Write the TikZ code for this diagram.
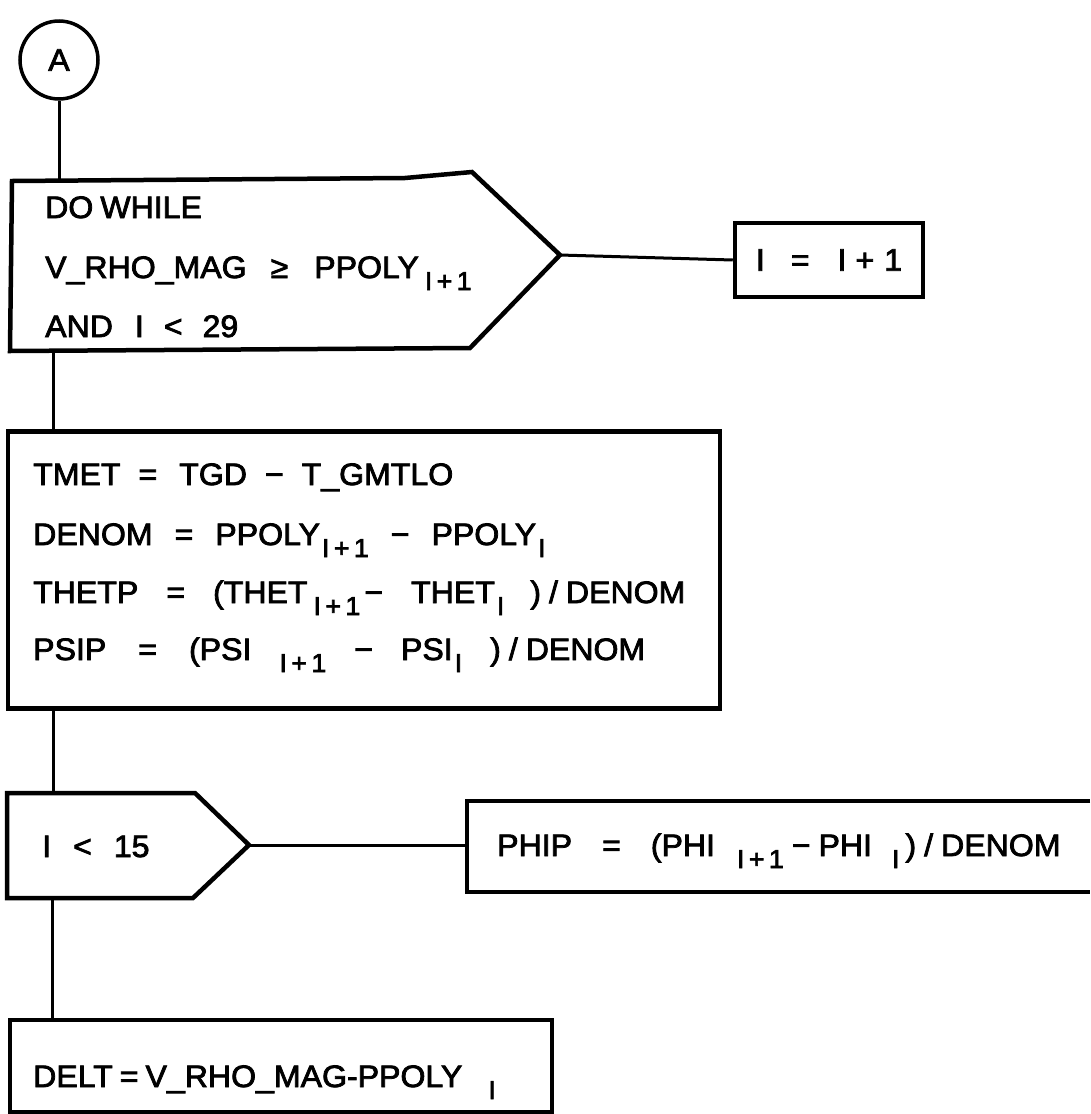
\documentclass[tikz,border=0pt]{standalone}
\usepackage{fontspec}
\setmainfont[FakeStretch=1.035,FakeBold=2.5]{Liberation Sans}
\newcommand\sbx[1]{\raisebox{-12pt}{\fontsize{26}{26}\selectfont #1}}
\newcommand\gp[1]{\hspace{#1pt}}
\begin{document}
\begin{tikzpicture}[x=1pt,y=-1pt,
  boxline/.style={line width=4.5pt, line join=miter},
  wire/.style={line width=3pt},
  rbox/.style={draw, boxline, inner sep=0pt},
  txt/.style={anchor=base west, inner sep=0pt, font=\fontsize{31}{36}\selectfont}]
\useasboundingbox[fill=white] (0,0) rectangle (1090,1114);

% connector A
\node[circle, draw, line width=3.5pt, minimum size=78pt, inner sep=0pt,
      font=\fontsize{31}{36}\selectfont] (A) at (59,60) {A};

% DO WHILE pentagon
\draw[boxline] (12,181) -- (405,178) -- (472,172) -- (560,255) -- (470,348) -- (10,351) -- cycle;
\coordinate (w1top) at (59,180);
\coordinate (w1tip) at (560,255);
\coordinate (w1bot) at (53,351);
\node[txt] (w1a) at (45,218) {DO\gp{7}WHILE};
\node[txt] (w1b) at (45,278) {V\_RHO\_MAG\gp{24}≥\gp{26}PPOLY\gp{6}\sbx{I\,+\,1}};
\node[txt] (w1c) at (45,337) {AND\gp{22}I\gp{20}<\gp{20}29};

% I = I + 1
\node[rbox, minimum width=188pt, minimum height=74pt,
      font=\fontsize{31}{36}\selectfont] (inc) at (829,260) {I\gp{26}=\gp{28}I\gp{9}+\gp{10}1};

% computation box
\node[rbox, minimum width=712pt, minimum height=277pt] (calc) at (364,570) {};
\node[txt] (c1) at (33,485) {TMET\gp{18}=\gp{22}TGD\gp{18}−\gp{18}T\_GMTLO};
\node[txt] (c2) at (33,545) {DENOM\gp{22}=\gp{22}PPOLY\gp{2}\sbx{I\,+\,1}\gp{22}−\gp{22}PPOLY\gp{2}\sbx{I}};
\node[txt] (c3) at (33,603) {THETP\gp{28}=\gp{28}(THET\gp{6}\sbx{I\,+\,1}\gp{4}−\gp{28}THET\gp{2}\sbx{I}\gp{26})\gp{8}/\gp{8}DENOM};
\node[txt] (c4) at (33,660) {PSIP\gp{32}=\gp{32}(PSI\gp{28}\sbx{I\,+\,1}\gp{28}−\gp{28}PSI\gp{2}\sbx{I}\gp{28})\gp{8}/\gp{8}DENOM};

% I < 15 pentagon
\draw[boxline] (7,793) -- (195,793) -- (249,845) -- (193,898) -- (7,898) -- cycle;
\coordinate (w2top) at (53,793);
\coordinate (w2tip) at (249,845);
\coordinate (w2bot) at (52,898);
\node[txt] (w2a) at (42,857) {I\gp{22}<\gp{22}15};

% PHIP box (open to the right edge)
\draw[boxline] (1090,801) -- (467,801) -- (467,892) -- (1090,892);
\coordinate (phw) at (467,845);
\node[txt] (ph) at (497,856) {PHIP\gp{30}=\gp{30}(PHI\gp{22}\sbx{I\,+\,1}\gp{8}−\gp{8}PHI\gp{20}\sbx{I}\gp{6})\gp{8}/\gp{8}DENOM};

% DELT box
\node[rbox, minimum width=542pt, minimum height=92pt] (delt) at (281,1066) {};
\node[txt] (d1) at (33,1087) {DELT\gp{7}=\gp{7}V\_RHO\_MAG-PPOLY\gp{26}\sbx{I}};

% connectors
\draw[wire] (A.south) -- (w1top);
\draw[wire] (w1tip) -- (inc.west);
\draw[wire] (w1bot) -- (w1bot |- calc.north);
\draw[wire] (w1bot |- calc.south) -- (w2top);
\draw[wire] (w2tip) -- (phw);
\draw[wire] (w2bot) -- (w2bot |- delt.north);
\end{tikzpicture}
\end{document}
